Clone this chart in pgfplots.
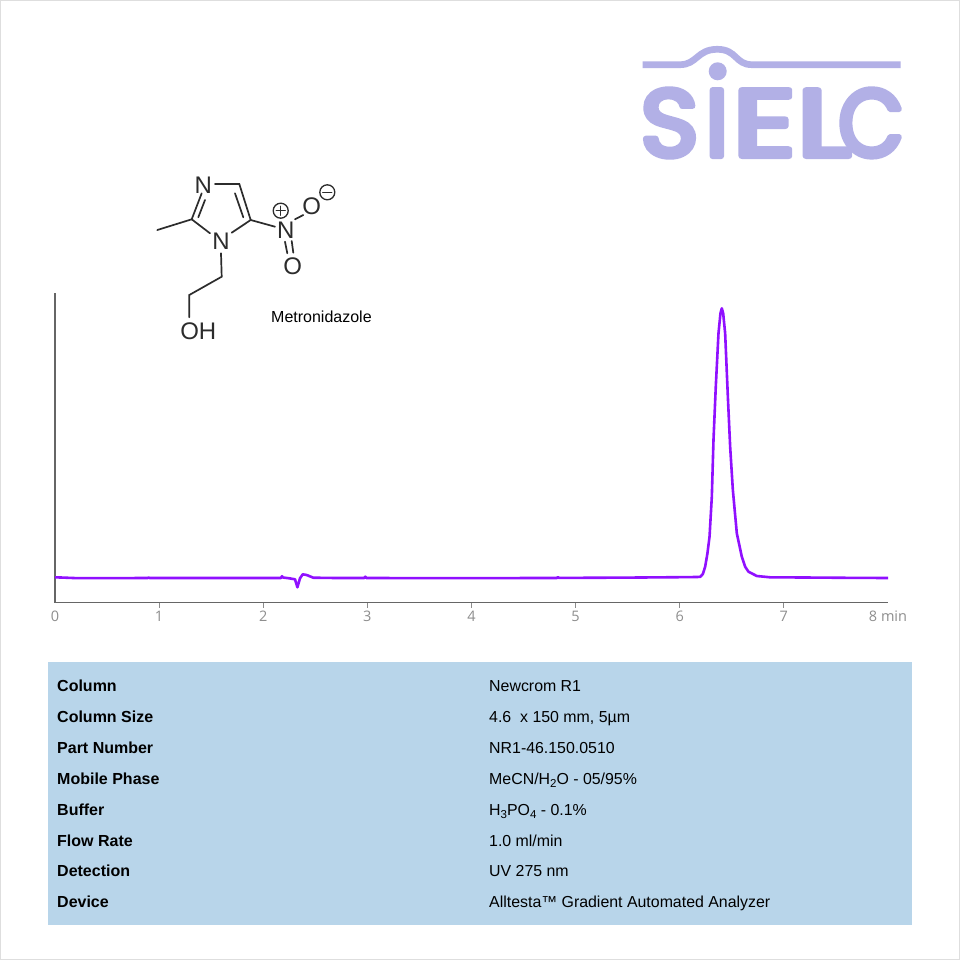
\documentclass[border=0pt]{standalone}
\usepackage{fontspec}
\usepackage{graphicx}
\usepackage{pgfplots}
\pgfplotsset{compat=1.18}
\setmainfont{Liberation Sans}
\newfontfamily\tickfont{Open Sans}
\newfontfamily\logofont[FakeBold=6]{Poppins}
\definecolor{tbl}{HTML}{B8D5EA}
\definecolor{logo}{HTML}{B2B0E6}
\definecolor{trace}{HTML}{9010FF}
\definecolor{axisc}{HTML}{666666}
\definecolor{tickc}{HTML}{8E8E8E}
\definecolor{mol}{HTML}{2C2C2C}
\newcommand{\sub}[1]{\raisebox{-3.5pt}{\fontsize{11.5pt}{12pt}\selectfont #1}}
\newcommand{\logoletter}[2]{\scalebox{#1}[1]{\logofont\fontsize{95pt}{95pt}\selectfont #2}}
\pgfplotstableread{
t y
0.00 25.2
0.08 24.9
0.20 24.4
0.60 24.4
0.89 24.5
0.90 24.9
0.91 24.5
1.50 24.5
2.00 24.5
2.17 24.5
2.18 26.3
2.19 25.0
2.25 24.2
2.305 23.2
2.328 15.2
2.353 24.2
2.379 28.2
2.417 27.5
2.481 24.8
2.70 24.5
2.97 24.5
2.98 25.8
2.99 24.5
3.50 24.4
4.00 24.4
4.82 24.5
4.83 25.4
4.84 24.6
5.50 24.9
6.10 25.4
6.196 25.6
6.222 28.5
6.244 35.8
6.266 49.2
6.286 65.8
6.308 105.8
6.324 162.5
6.346 215.8
6.372 269.2
6.391 289.2
6.404 294.2
6.417 289.2
6.436 269.2
6.462 205.8
6.484 155.8
6.510 112.5
6.548 69.2
6.596 45.8
6.628 35.8
6.660 30.8
6.740 26.5
6.868 25.2
7.20 25.0
7.60 24.7
8.00 24.5
}\tracedata
\begin{document}
\begin{tikzpicture}[x=1pt,y=-1pt]
\path[use as bounding box] (0,0) rectangle (960,960);
\fill[white] (0,0) rectangle (960,960);
\draw[draw=black!13,line width=1pt] (0.5,0.5) rectangle (959.5,959.5);
% logo
\draw[logo,line width=6.7pt] (642.7,64.7) -- (680,64.7) .. controls (697,64.7) and (697,49.3) .. (717.3,49.3) .. controls (737,49.3) and (735,64.7) .. (752,64.7) -- (900.7,64.7);
\fill[logo] (717.7,71.3) circle[radius=9];
\begin{scope}[line join=round,logo,text=logo]
\node[anchor=base west,inner sep=0pt,text=logo] at (640,156.2) {\logoletter{1.05}{S}};
\node[anchor=base west,inner sep=0pt,text=logo] at (705,156.2) {\logoletter{1.0}{I}};
\node[anchor=base west,inner sep=0pt,text=logo] at (732.5,156.2) {\logoletter{1.3}{E}};
\node[anchor=base west,inner sep=0pt,text=logo] at (796.5,156.2) {\logoletter{1.32}{L}};
\node[anchor=base west,inner sep=0pt,text=logo] at (838,156.2) {\logoletter{0.9}{C}};
\end{scope}
% axis
\begin{axis}[
  at={(55pt,-602.5pt)},anchor=origin,
  scale only axis,width=833pt,height=309.5pt,
  xmin=0,xmax=8,ymin=0,ymax=309.5,
  axis x line=bottom,axis y line=left,
  axis line style={-,draw=axisc,line width=1.3pt},
  ytick=\empty,
  xtick={1,2,3,4,5,6,7},
  xticklabels={1,2,3,4,5,6,7},
  extra x ticks={0,8},
  extra x tick labels={0,8 min},
  extra x tick style={major tick style={draw=none}},
  tick align=outside,
  major tick length=5pt,
  tick style={draw=black!45,line width=0.9pt},
  xticklabel style={font=\tickfont\fontsize{14.5pt}{15pt}\selectfont,text=tickc,inner sep=0pt,yshift=-3pt},
  clip=false,
]
\addplot[trace,line width=2.6pt,line join=round] table[x=t,y=y] {\tracedata};
\end{axis}
% molecule
\begin{scope}[mol,line width=1.7pt,line cap=round]
\draw (215,184)--(239.3,184)--(250.7,220)--(231.7,232.7);
\draw (235,193.3)--(243.3,217.3);
\draw (210,233.3)--(191.7,219.3)--(201.7,193.3);
\draw (198.3,217.3)--(205,200);
\draw (157.3,230)--(191.7,219.3);
\draw (250.7,220)--(275,226.7);
\draw (295,219.3)--(303.3,215);
\draw (285,241.7)--(287.3,253.3);
\draw (291.7,241)--(293.3,252.7);
\draw (221,253.3)--(221.7,276.7)--(189.3,295)--(189.3,317.3);
\draw[line width=1.3pt] (280.7,210.7) circle[radius=7.5];
\draw[line width=1.3pt] (276.2,210.7)--(285.2,210.7) (280.7,206.2)--(280.7,215.2);
\draw[line width=1.3pt] (327.3,192.3) circle[radius=7.5];
\draw[line width=1.3pt] (322.8,192.3)--(331.8,192.3);
\end{scope}
\begin{scope}[every node/.style={inner sep=0pt,text=mol,font=\fontsize{24pt}{24pt}\selectfont}]
\node at (203.3,185) {N};
\node at (221,241) {N};
\node at (285.7,230) {N};
\node at (311.7,206.7) {O};
\node at (292.7,266) {O};
\node at (198.3,331.7) {OH};
\end{scope}
\node[anchor=base west,inner sep=0pt,text=black,font=\fontsize{16pt}{16pt}\selectfont] at (271,322) {Metronidazole};
% table
\fill[tbl] (48,662) rectangle (912,925);
\begin{scope}[every node/.style={anchor=base west,inner sep=0pt,text=black}]
\def\lf{\bfseries\fontsize{16pt}{16pt}\selectfont}
\def\vf{\fontsize{15.9pt}{16pt}\selectfont}
\node[font=\lf] at (57,691) {Column};
\node[font=\lf] at (57,722) {Column Size};
\node[font=\lf] at (57,753) {Part Number};
\node[font=\lf] at (57,784) {Mobile Phase};
\node[font=\lf] at (57,815) {Buffer};
\node[font=\lf] at (57,846) {Flow Rate};
\node[font=\lf] at (57,876.6) {Detection};
\node[font=\lf] at (57,907) {Device};
\node[font=\vf] at (489,691) {Newcrom R1};
\node[font=\vf] at (489,722) {4.6 \ x 150 mm, 5µm};
\node[font=\vf] at (489,753) {NR1-46.150.0510};
\node[font=\vf] at (489,784) {MeCN/H\sub{2}O - 05/95\%};
\node[font=\vf] at (489,815) {H\sub{3}PO\sub{4} - 0.1\%};
\node[font=\vf] at (489,846) {1.0 ml/min};
\node[font=\vf] at (489,876.6) {UV 275 nm};
\node[font=\vf] at (489,907) {Alltesta™ Gradient Automated Analyzer};
\end{scope}
\end{tikzpicture}
\end{document}
